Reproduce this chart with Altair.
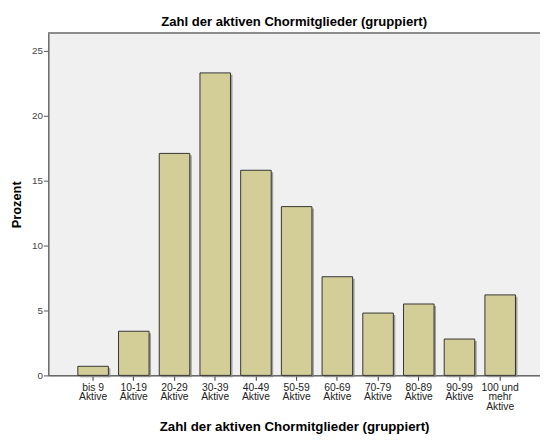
import altair as alt
import pandas as pd

categories = ["bis 9\nAktive", "10-19\nAktive", "20-29\nAktive", "30-39\nAktive",
              "40-49\nAktive", "50-59\nAktive", "60-69\nAktive", "70-79\nAktive",
              "80-89\nAktive", "90-99\nAktive", "100 und\nmehr\nAktive"]
prozent = [0.7, 3.4, 17.1, 23.3, 15.8, 13.0, 7.6, 4.8, 5.5, 2.8, 6.2]
y_ticks = [0, 5, 10, 15, 20, 25]

df = pd.DataFrame({"kat": categories, "prozent": prozent})

W = 500
H = 348
FONT = "Liberation Sans"

xenc = alt.X("kat:N", sort=categories,
             scale=alt.Scale(paddingInner=0.25, paddingOuter=0.664, align=0.546),
             axis=alt.Axis(title="Zahl der aktiven Chormitglieder (gruppiert)",
                           labelAngle=0, labelFontSize=10.5, labelColor="#222",
                           labelFont=FONT, labelBaseline="top", labelPadding=2,
                           labelLineHeight=10,
                           labelExpr="split(datum.label, '\\n')",
                           tickSize=5, tickColor="#333", domainColor="#111",
                           titleFont=FONT, titleFontSize=13.5, titleFontWeight="bold",
                           titleColor="#000", titlePadding=8))
yenc = alt.Y("prozent:Q",
             scale=alt.Scale(domain=[0, 26.36], nice=False, zero=True),
             axis=alt.Axis(title="Prozent", values=y_ticks, grid=False,
                           labelFontSize=10, labelColor="#444", labelFont=FONT,
                           labelPadding=1, tickSize=5, tickColor="#555",
                           domainColor="#666", domainWidth=1.5,
                           titleFont=FONT, titleFontSize=13, titleFontWeight="bold",
                           titleColor="#000", titlePadding=8))

base = alt.Chart(df)
shadow = base.mark_bar(color="#8a8a8a", opacity=0.8, xOffset=2, yOffset=2, y2Offset=0).encode(
    x=xenc, y=yenc)
bars = base.mark_bar(color="#d3ce97", stroke="#333333", strokeWidth=1).encode(
    x=xenc, y=yenc)
top = base.mark_rule(color="#8c8c8c", strokeWidth=1.5).encode(
    x=alt.value(0), x2=alt.value(W), y=alt.value(0))

chart = alt.layer(shadow, bars, top).properties(
    width=W, height=H,
    title=alt.TitleParams("Zahl der aktiven Chormitglieder (gruppiert)",
                          font=FONT, fontSize=13.3, fontWeight="bold", color="#000",
                          anchor="middle", offset=4),
    autosize=alt.AutoSizeParams(type="none"),
    padding={"left": 41, "top": 22, "right": 0, "bottom": 56},
    background="white",
).configure_view(stroke=None, fill="#f0f0f0")

chart.save("out.html", embed_options={"renderer": "svg", "actions": False})
